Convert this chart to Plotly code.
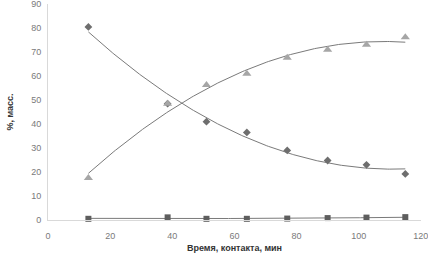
import numpy as np
import plotly.graph_objects as go

time_min = [13, 38.5, 51, 64, 77, 90, 102.5, 115]
series_diamond = [80.5, 48.5, 41.0, 36.5, 29.0, 24.8, 23.0, 19.2]
series_triangle = [17.5, 48.5, 56.3, 61.0, 67.6, 71.0, 73.1, 76.2]
series_square = [0.5, 1.1, 0.5, 0.5, 0.6, 0.8, 1.0, 1.2]
x_ticks = [0, 20, 40, 60, 80, 100, 120]
y_ticks = [0, 10, 20, 30, 40, 50, 60, 70, 80, 90]

fig = go.Figure()

xs = np.linspace(min(time_min), max(time_min), 200)
for vals in (series_diamond, series_triangle, series_square):
    c = np.polyfit(time_min, vals, 2)
    fig.add_trace(go.Scatter(x=xs, y=np.polyval(c, xs), mode="lines",
                             line=dict(color="#7a7a7a", width=1), showlegend=False,
                             hoverinfo="skip", cliponaxis=False))

fig.add_trace(go.Scatter(x=time_min, y=series_diamond, mode="markers",
                         marker=dict(symbol="diamond", size=6, color="#6e6e6e"),
                         showlegend=False))
fig.add_trace(go.Scatter(x=time_min, y=series_triangle, mode="markers",
                         marker=dict(symbol="triangle-up", size=8, color="#a6a6a6"),
                         showlegend=False))
fig.add_trace(go.Scatter(x=time_min, y=series_square, mode="markers",
                         marker=dict(symbol="square", size=6, color="#5e5e5e"),
                         showlegend=False, cliponaxis=False))

font_tick = dict(family="Liberation Sans, Arial", size=9, color="#7a7a7a")
font_title = dict(family="Liberation Sans, Arial", size=9, color="#333333")
fig.update_layout(
    width=428, height=253,
    margin=dict(l=48, r=7, t=4, b=33, autoexpand=False),
    plot_bgcolor="white", paper_bgcolor="white",
    xaxis=dict(range=[0, 120.05], tickvals=x_ticks, showgrid=False, zeroline=False,
               showline=True, linecolor="#d9d9d9", linewidth=1,
               ticks="outside", ticklen=7, tickcolor="rgba(0,0,0,0)",
               tickfont=font_tick, automargin=False, ticklabeloverflow="allow",
               title=dict(text="<b>Время, контакта, мин</b>", standoff=4, font=font_title)),
    yaxis=dict(range=[0, 90.05], tickvals=y_ticks, showgrid=False, zeroline=False,
               showline=True, linecolor="#d9d9d9", linewidth=1,
               ticks="outside", ticklen=4, tickcolor="rgba(0,0,0,0)",
               tickfont=font_tick, automargin=False, ticklabeloverflow="allow",
               title=dict(text="<b>%, масс.</b>", standoff=16, font=font_title)),
)
fig.write_html("out.html", config={"displayModeBar": False},
               post_script="document.body.style.margin='0';document.body.style.overflow='hidden';")
